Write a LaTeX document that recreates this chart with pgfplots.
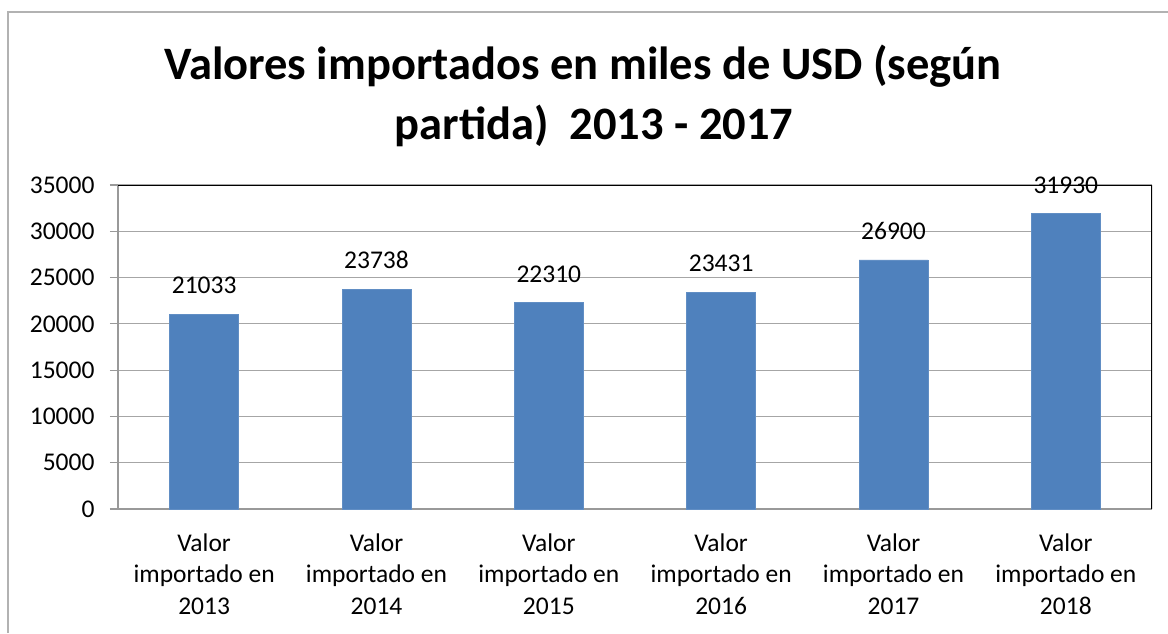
\documentclass[border=0pt]{standalone}
\usepackage{fontspec}
\setmainfont{Carlito}
\usepackage{pgfplots}
\pgfplotsset{compat=1.18}
\definecolor{barblue}{RGB}{79,129,189}
\begin{document}
\begin{tikzpicture}[x=1pt,y=1pt]
\path[use as bounding box] (0pt,0pt) rectangle (1168pt,633pt);
\draw[gray!60, line width=1.5pt] (8pt,0pt) -- (8pt,621pt) -- (1168pt,621pt);
\node[font=\bfseries\fontsize{46.5}{56}\selectfont, anchor=base] at (583pt,553pt) {Valores importados en miles de USD (según};
\node[font=\bfseries\fontsize{46.5}{56}\selectfont, anchor=base] at (594pt,493pt) {partida)\ \ 2013 - 2017};
\begin{axis}[
  at={(118pt,124pt)}, anchor=south west,
  scale only axis, width=1034pt, height=324pt,
  ymin=0, ymax=35000, xmin=-0.5, xmax=5.5,
  ytick={0,5000,...,35000},
  scaled y ticks=false,
  xtick={0,1,2,3,4,5},
  xticklabels={{Valor\\importado en\\2013},{Valor\\importado en\\2014},{Valor\\importado en\\2015},{Valor\\importado en\\2016},{Valor\\importado en\\2017},{Valor\\importado en\\2018}},
  /pgf/number format/assume math mode=true,
  /pgf/number format/1000 sep={},
  tick label style={font=\fontsize{25.5}{31.5}\selectfont},
  xticklabel style={align=center, yshift=-13pt},
  yticklabel style={xshift=-12pt},
  axis x line*=bottom, axis y line*=left,
  axis line style={gray!80, line width=1.5pt, -},
  ymajorgrids, grid style={gray!70, line width=1.2pt},
  tick align=outside, major tick length=8pt,
  ytick style={gray!80, line width=1.2pt},
  xtick style={draw=none},
  bar width=69pt,
  nodes near coords,
  nodes near coords style={font=\fontsize{25.5}{30}\selectfont, anchor=south, inner sep=0pt, yshift=20pt, text=black},
]
\addplot[ybar, fill=barblue, draw=barblue!90!white] coordinates {(0,21033) (1,23738) (2,22310) (3,23431) (4,26900) (5,31930)};
\draw[black, line width=1.2pt] (rel axis cs:0,1) -- (rel axis cs:1,1) -- (rel axis cs:1,0);
\end{axis}
\end{tikzpicture}
\end{document}
